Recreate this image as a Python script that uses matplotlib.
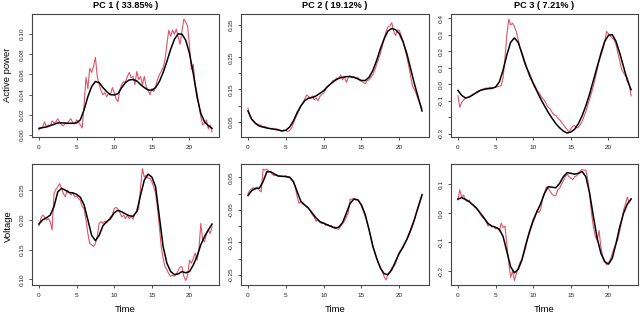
import numpy as np
import matplotlib
matplotlib.use("Agg")
import matplotlib.pyplot as plt

plt.rcParams['font.family'] = ['Liberation Sans', 'DejaVu Sans']

titles = ["PC 1 ( 33.85% )", "PC 2 ( 19.12% )", "PC 3 ( 7.21% )"]
row_labels = ["Active power", "Voltage"]
xlabel = "Time"

# red (raw) curves sampled every 0.25 h from 0 to 23
t_raw = np.arange(0, 23.01, 0.25)
# black (smooth) curves sampled every 0.5 h from 0 to 23
t_fit = np.arange(0, 23.01, 0.5)

p1_raw = [0.005, 0.007, 0.008, 0.013, 0.008, 0.010, 0.009, 0.014, 0.012, 0.013, 0.016, 0.013,
          0.010, 0.009, 0.012, 0.011, 0.014, 0.016, 0.012, 0.011, 0.015, 0.013, 0.010, 0.007,
          0.030, 0.057, 0.046, 0.066, 0.062, 0.068, 0.077, 0.058, 0.050, 0.044, 0.040, 0.042,
          0.038, 0.041, 0.040, 0.047, 0.042, 0.036, 0.033, 0.045, 0.050, 0.053, 0.052, 0.058,
          0.062, 0.057, 0.058, 0.050, 0.063, 0.055, 0.058, 0.050, 0.058, 0.048, 0.044, 0.040,
          0.046, 0.043, 0.048, 0.055, 0.060, 0.063, 0.067, 0.075, 0.090, 0.104, 0.098, 0.104,
          0.100, 0.105, 0.097, 0.090, 0.103, 0.115, 0.112, 0.108, 0.088, 0.065, 0.070, 0.050,
          0.042, 0.030, 0.018, 0.010, 0.012, 0.015, 0.006, 0.010, 0.003]
p1_fit = [0.0066, 0.0073, 0.008, 0.0093, 0.0106, 0.012, 0.012, 0.0118, 0.0116, 0.0116, 0.012, 0.015,
          0.025, 0.038, 0.048, 0.053, 0.052, 0.047, 0.043, 0.040, 0.0397, 0.041, 0.047, 0.052,
          0.0546, 0.055, 0.0536, 0.050, 0.047, 0.0447, 0.0444, 0.047, 0.053, 0.062, 0.073, 0.085,
          0.095, 0.1003, 0.100, 0.094, 0.081, 0.061, 0.038, 0.0215, 0.013, 0.0093, 0.0066]

p2_raw = [0.092, 0.066, 0.058, 0.052, 0.045, 0.042, 0.040, 0.038, 0.034, 0.035, 0.030, 0.029,
          0.028, 0.029, 0.026, 0.028, 0.025, 0.022, 0.020, 0.024, 0.022, 0.019, 0.022, 0.030,
          0.045, 0.060, 0.072, 0.085, 0.098, 0.108, 0.120, 0.133, 0.128, 0.122, 0.130, 0.118,
          0.124, 0.115, 0.128, 0.135, 0.138, 0.150, 0.158, 0.162, 0.170, 0.178, 0.180, 0.186,
          0.183, 0.195, 0.180, 0.190, 0.172, 0.188, 0.193, 0.186, 0.190, 0.184, 0.188, 0.178,
          0.176, 0.172, 0.168, 0.178, 0.180, 0.188, 0.196, 0.210, 0.228, 0.245, 0.262, 0.285,
          0.310, 0.330, 0.345, 0.348, 0.358, 0.330, 0.318, 0.335, 0.334, 0.318, 0.300, 0.275,
          0.250, 0.222, 0.190, 0.160, 0.150, 0.135, 0.118, 0.105, 0.092]
p2_fit = [0.083, 0.057, 0.044, 0.036, 0.033, 0.030, 0.028, 0.026, 0.024, 0.021, 0.023, 0.033,
          0.052, 0.078, 0.099, 0.115, 0.123, 0.125, 0.130, 0.138, 0.146, 0.159, 0.169, 0.178,
          0.185, 0.188, 0.190, 0.190, 0.188, 0.183, 0.178, 0.178, 0.188, 0.209, 0.240, 0.277,
          0.308, 0.332, 0.340, 0.336, 0.324, 0.298, 0.261, 0.214, 0.167, 0.125, 0.083]

p3_raw = [-0.070, -0.140, -0.110, -0.095, -0.085, -0.082, -0.075, -0.068, -0.060, -0.055, -0.045, -0.040,
          -0.035, -0.030, -0.028, -0.022, -0.025, -0.018, -0.020, -0.022, -0.018, -0.015, -0.012, -0.008,
          0.040, 0.160, 0.300, 0.395, 0.360, 0.370, 0.350, 0.320, 0.270, 0.220, 0.180, 0.140,
          0.110, 0.090, 0.070, 0.040, 0.010, -0.010, -0.035, -0.050, -0.070, -0.085, -0.100, -0.120,
          -0.140, -0.150, -0.170, -0.185, -0.190, -0.205, -0.215, -0.230, -0.245, -0.260, -0.275, -0.290,
          -0.270, -0.255, -0.250, -0.265, -0.260, -0.245, -0.225, -0.195, -0.165, -0.125, -0.090, -0.050,
          -0.010, 0.040, 0.090, 0.140, 0.175, 0.210, 0.260, 0.320, 0.305, 0.290, 0.280, 0.270,
          0.240, 0.190, 0.140, 0.090, 0.070, 0.050, 0.040, 0.000, -0.070]
p3_fit = [-0.037, -0.068, -0.083, -0.078, -0.064, -0.050, -0.037, -0.031, -0.027, -0.025, -0.017, 0.014,
          0.086, 0.178, 0.254, 0.281, 0.254, 0.188, 0.117, 0.055, 0.004, -0.043, -0.089, -0.131,
          -0.171, -0.206, -0.239, -0.264, -0.284, -0.296, -0.290, -0.273, -0.239, -0.191, -0.130, -0.058,
          0.024, 0.106, 0.188, 0.260, 0.297, 0.301, 0.260, 0.188, 0.106, 0.024, -0.033]

p4_raw = [0.190, 0.202, 0.208, 0.205, 0.200, 0.202, 0.197, 0.183, 0.244, 0.251, 0.2556, 0.261,
          0.253, 0.244, 0.239, 0.250, 0.247, 0.242, 0.245, 0.239, 0.240, 0.236, 0.233, 0.222,
          0.219, 0.200, 0.177, 0.160, 0.158, 0.155, 0.160, 0.172, 0.194, 0.197, 0.194, 0.198,
          0.195, 0.200, 0.205, 0.208, 0.219, 0.221, 0.218, 0.212, 0.205, 0.208, 0.202, 0.208,
          0.202, 0.206, 0.201, 0.211, 0.214, 0.219, 0.2556, 0.286, 0.272, 0.275, 0.270, 0.270,
          0.264, 0.2556, 0.244, 0.219, 0.188, 0.155, 0.135, 0.121, 0.116, 0.109, 0.105, 0.107,
          0.105, 0.109, 0.115, 0.121, 0.121, 0.105, 0.098, 0.107, 0.132, 0.127, 0.135, 0.144,
          0.132, 0.149, 0.194, 0.166, 0.163, 0.177, 0.183, 0.177, 0.188]
p4_fit = [0.193, 0.200, 0.2035, 0.208, 0.222, 0.247, 0.253, 0.250, 0.246, 0.2455, 0.243, 0.238,
          0.225, 0.200, 0.174, 0.165, 0.174, 0.190, 0.197, 0.202, 0.212, 0.216, 0.2136, 0.210,
          0.207, 0.206, 0.214, 0.2416, 0.267, 0.277, 0.272, 0.2556, 0.205, 0.155, 0.127, 0.113,
          0.108, 0.109, 0.113, 0.111, 0.113, 0.124, 0.139, 0.158, 0.172, 0.183, 0.193]

p5_raw = [-0.001, 0.010, 0.015, 0.018, 0.013, 0.020, 0.010, 0.005, 0.075, 0.072, 0.075, 0.068,
          0.065, 0.058, 0.055, 0.057, 0.052, 0.054, 0.052, 0.053, 0.055, 0.050, 0.052, 0.043,
          0.035, 0.020, -0.010, -0.030, -0.025, -0.033, -0.035, -0.040, -0.045, -0.055, -0.065, -0.072,
          -0.085, -0.080, -0.088, -0.092, -0.090, -0.098, -0.095, -0.100, -0.098, -0.105, -0.102, -0.108,
          -0.110, -0.100, -0.092, -0.085, -0.072, -0.060, -0.018, -0.017, -0.015, -0.020, -0.018, -0.025,
          -0.040, -0.055, -0.070, -0.090, -0.110, -0.135, -0.160, -0.180, -0.200, -0.215, -0.225, -0.240,
          -0.255, -0.265, -0.245, -0.240, -0.228, -0.225, -0.215, -0.195, -0.180, -0.172, -0.160, -0.150,
          -0.142, -0.130, -0.115, -0.100, -0.080, -0.060, -0.045, -0.025, -0.002]
p5_fit = [-0.006, 0.009, 0.016, 0.016, 0.037, 0.067, 0.067, 0.060, 0.054, 0.053, 0.052, 0.050,
          0.037, 0.006, -0.024, -0.035, -0.045, -0.060, -0.075, -0.086, -0.091, -0.096, -0.101, -0.106,
          -0.103, -0.089, -0.060, -0.030, -0.017, -0.019, -0.035, -0.065, -0.111, -0.162, -0.198, -0.229,
          -0.246, -0.249, -0.234, -0.208, -0.183, -0.164, -0.140, -0.111, -0.079, -0.040, -0.004]

p6_raw = [0.045, 0.080, 0.055, 0.062, 0.045, 0.040, 0.045, 0.032, 0.030, 0.020, 0.015, 0.005,
          -0.005, -0.015, -0.020, -0.030, -0.045, -0.040, -0.048, -0.045, -0.055, -0.050, -0.062, -0.035,
          -0.050, -0.045, -0.110, -0.170, -0.222, -0.200, -0.232, -0.210, -0.190, -0.170, -0.160, -0.140,
          -0.120, -0.090, -0.070, -0.050, -0.030, -0.015, 0.010, 0.000, 0.015, 0.050, 0.070, 0.090,
          0.085, 0.075, 0.065, 0.060, 0.060, 0.080, 0.085, 0.100, 0.110, 0.125, 0.135, 0.125,
          0.120, 0.115, 0.125, 0.128, 0.135, 0.145, 0.150, 0.148, 0.148, 0.115, 0.060, 0.000,
          -0.050, -0.080, -0.095, -0.060, -0.120, -0.150, -0.165, -0.178, -0.172, -0.160, -0.140, -0.120,
          -0.105, -0.090, -0.060, -0.030, 0.010, 0.030, 0.055, 0.035, 0.050]
p6_fit = [0.048, 0.053, 0.047, 0.039, 0.028, 0.016, -0.001, -0.018, -0.036, -0.045, -0.049, -0.056,
          -0.081, -0.133, -0.185, -0.206, -0.194, -0.162, -0.110, -0.064, -0.024, 0.005, 0.033, 0.068,
          0.091, 0.089, 0.087, 0.102, 0.125, 0.139, 0.137, 0.134, 0.137, 0.143, 0.125, 0.068,
          -0.013, -0.087, -0.139, -0.168, -0.176, -0.156, -0.105, -0.047, -0.001, 0.031, 0.048]

raw = [p1_raw, p2_raw, p3_raw, p4_raw, p5_raw, p6_raw]
fit = [p1_fit, p2_fit, p3_fit, p4_fit, p5_fit, p6_fit]

xticks = [0, 5, 10, 15, 20]
yticks = [
    [0.00, 0.02, 0.04, 0.06, 0.08, 0.10],
    [0.05, 0.10, 0.15, 0.20, 0.25, 0.30, 0.35],
    [0.4, 0.3, 0.2, 0.1, 0.0, -0.1, -0.2, -0.3],
    [0.10, 0.15, 0.20, 0.25],
    [0.05, 0.0, -0.05, -0.10, -0.15, -0.20, -0.25],
    [0.1, 0.0, -0.1, -0.2],
]
ylabels = [
    ["0.00", "0.02", "0.04", "0.06", "0.08", "0.10"],
    ["0.05", "", "0.15", "", "0.25", "", "0.35"],
    ["0.4", "0.3", "0.2", "0.1", "0.0", "-0.1", "", "-0.3"],
    ["0.10", "0.15", "0.20", "0.25"],
    ["0.05", "", "-0.05", "", "-0.15", "", "-0.25"],
    ["0.1", "0.0", "-0.1", "-0.2"],
]
ylims = [(-0.002, 0.120), (0.002, 0.385), (-0.320, 0.426),
         (0.0904, 0.294), (-0.2806, 0.0907), (-0.248, 0.169)]

W, H = 640, 314
fig = plt.figure(figsize=(W / 100, H / 100), dpi=100)

lefts = [32, 241, 451]
widths = [187, 188, 187]
tops = [14, 164]
bottoms = [137, 285]

red = "#DF536B"
for i in range(6):
    r, c = divmod(i, 3)
    l, w = lefts[c], widths[c]
    t, b = tops[r], bottoms[r]
    ax = fig.add_axes([l / W, (H - b) / H, w / W, (b - t) / H])
    ax.plot(t_raw, raw[i], color=red, lw=0.8)
    ax.plot(t_fit, fit[i], color="black", lw=1.1)
    ax.set_xlim(-0.92, 23.92)
    ax.set_ylim(*ylims[i])
    ax.set_xticks(xticks)
    ax.set_xticklabels([str(v) for v in xticks])
    ax.set_yticks(yticks[i])
    ax.set_yticklabels(ylabels[i], rotation=90, va='center')
    ax.tick_params(axis='both', direction='out', length=2.5, width=0.6,
                   labelsize=4.6, color='#333333', labelcolor='#222222')
    ax.tick_params(axis='x', pad=3.2)
    ax.tick_params(axis='y', pad=2.8)
    for s in ax.spines.values():
        s.set_linewidth(0.8)
        s.set_color('#444444')
    if r == 0:
        fig.text((l + w / 2) / W, 1 - 5 / H, titles[c], ha='center', va='center',
                 fontsize=6.6, fontweight='bold')
    else:
        fig.text((l + w / 2) / W, 1 - 309 / H, xlabel, ha='center', va='center',
                 fontsize=6.8)

fig.text(8 / W, 1 - 75 / H, row_labels[0], rotation=90, ha='center', va='center', fontsize=6.8)
fig.text(8 / W, 1 - 226 / H, row_labels[1], rotation=90, ha='center', va='center', fontsize=6.8)

fig.savefig("out.png", dpi=100)
